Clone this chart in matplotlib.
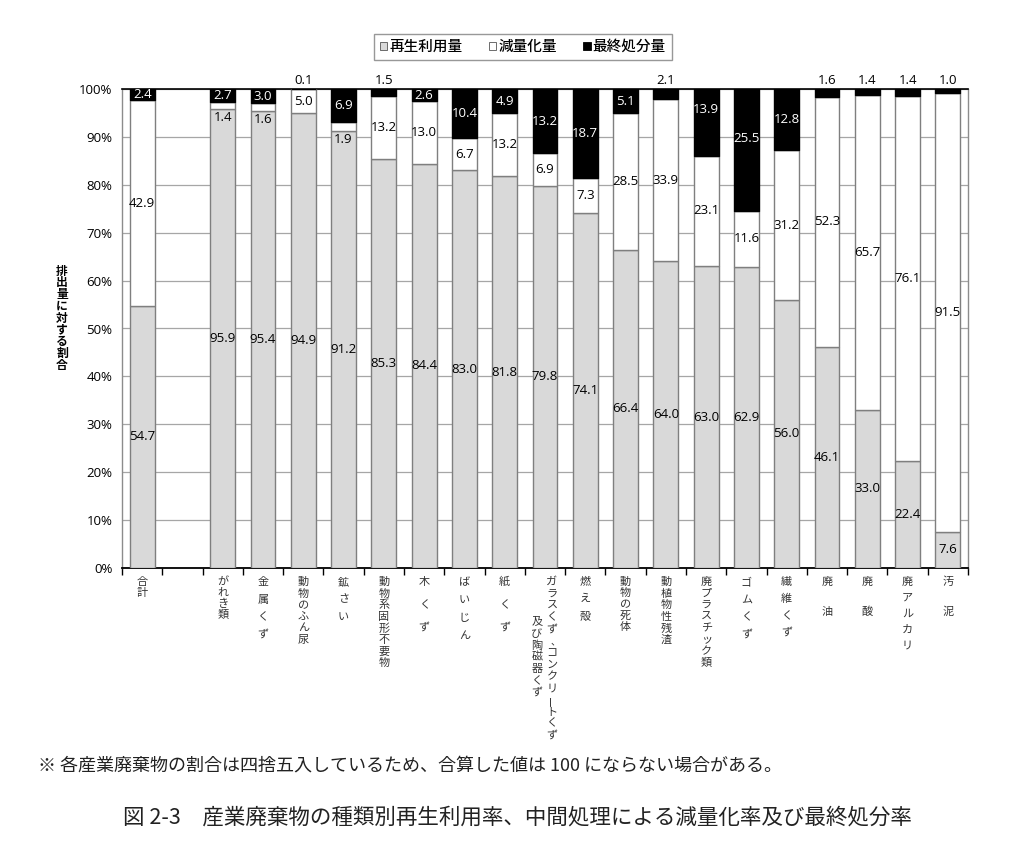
import matplotlib
matplotlib.use("Agg")
import matplotlib.pyplot as plt
from matplotlib.patches import Patch
import numpy as np

plt.rcParams['font.family'] = ['Noto Sans CJK JP', 'DejaVu Sans']

# ---- data ----
categories = ["合計", "", "がれき類", "金属くず", "動物のふん尿", "鉱さい", "動物系固形不要物",
              "木くず", "ばいじん", "紙くず", "ガラスくず、コンクリートくず|及び陶磁器くず",
              "燃え殻", "動物の死体", "動植物性残渣", "廃プラスチック類", "ゴムくず",
              "繊維くず", "廃油", "廃酸", "廃アルカリ", "汚泥"]
recycle = [54.7, np.nan, 95.9, 95.4, 94.9, 91.2, 85.3, 84.4, 83.0, 81.8, 79.8,
           74.1, 66.4, 64.0, 63.0, 62.9, 56.0, 46.1, 33.0, 22.4, 7.6]
reduction = [42.9, np.nan, 1.4, 1.6, 5.0, 1.9, 13.2, 13.0, 6.7, 13.2, 6.9,
             7.3, 28.5, 33.9, 23.1, 11.6, 31.2, 52.3, 65.7, 76.1, 91.5]
final = [2.4, np.nan, 2.7, 3.0, 0.1, 6.9, 1.5, 2.6, 10.4, 4.9, 13.2,
         18.7, 5.1, 2.1, 13.9, 25.5, 12.8, 1.6, 1.4, 1.4, 1.0]
series_names = ["再生利用量", "減量化量", "最終処分量"]
yticks = [0, 10, 20, 30, 40, 50, 60, 70, 80, 90, 100]

# ---- styling (not data) ----
label_step = [10.5, 0, 11, 17.7, 11.6, 17.5, 11.6, 23, 18, 23, 11.8,
              17, 11.3, 11.6, 11.6, 17.7, 17, 30, 30, 16, 30]
final_shift = {14: 2.6, 15: 2.5}   # manual label nudges (in %)

W, H = 1024, 855
fig = plt.figure(figsize=(W / 100, H / 100), dpi=100)
ax = fig.add_axes([122 / W, 1 - 568 / H, (968 - 122) / W, (568 - 89) / H])

x = np.arange(len(categories))
rec = np.array(recycle, dtype=float)
red = np.array(reduction, dtype=float)
fin = np.array(final, dtype=float)
bw = 0.62
ec = '#7f7f7f'
ax.bar(x, rec, bw, color='#d9d9d9', edgecolor=ec, linewidth=1.0, zorder=3)
ax.bar(x, red, bw, bottom=rec, color='white', edgecolor=ec, linewidth=1.0, zorder=3)
ax.bar(x, fin, bw, bottom=rec + red, color='black', edgecolor='black', linewidth=1.0, zorder=3)

ax.set_xlim(-0.5, len(categories) - 0.5)
ax.set_ylim(0, 100)
ax.set_yticks(yticks)
ax.set_yticklabels([f"{v}%" for v in yticks], fontsize=9.5, family=['Open Sans', 'DejaVu Sans'])
ax.tick_params(axis='y', length=0, pad=7)
ax.yaxis.grid(True, color='#a6a6a6', linewidth=0.9, zorder=0)
ax.set_axisbelow(True)
ax.set_xticks(np.arange(-0.5, len(categories), 1.0))
ax.set_xticklabels([])
ax.tick_params(axis='x', direction='out', length=5, width=1.0, color='black')
for s in ['left', 'right']:
    ax.spines[s].set_color('#8c8c8c')
    ax.spines[s].set_linewidth(1.0)
ax.spines['top'].set_color('black')
ax.spines['top'].set_linewidth(1.2)
ax.spines['bottom'].set_color('black')
ax.spines['bottom'].set_linewidth(1.3)

numfont = ['Open Sans', 'DejaVu Sans']
fs = 9.5
for i in range(len(categories)):
    if np.isnan(rec[i]):
        continue
    # recycle
    ax.text(x[i], rec[i] / 2, f"{rec[i]:.1f}", ha='center', va='center', fontsize=fs,
            family=numfont, zorder=5)
    # reduction
    if red[i] < 2.5:
        ax.text(x[i], rec[i] - 0.4, f"{red[i]:.1f}", ha='center', va='top', fontsize=fs,
                family=numfont, zorder=5)
    else:
        ax.text(x[i], rec[i] + red[i] / 2, f"{red[i]:.1f}", ha='center', va='center',
                fontsize=fs, family=numfont, zorder=5)
    # final
    if fin[i] < 2.3:
        ax.text(x[i], 100.4, f"{fin[i]:.1f}", ha='center', va='bottom', fontsize=fs,
                family=numfont, zorder=5, clip_on=False)
    else:
        yy = rec[i] + red[i] + fin[i] / 2 + final_shift.get(i, 0)
        ax.text(x[i], yy, f"{fin[i]:.1f}", ha='center', va='center', fontsize=fs,
                family=numfont, color='white', zorder=5)

# vertical category labels (stacked characters)
tcol = '#333333'
for i, lab in enumerate(categories):
    if not lab:
        continue
    cols = lab.split('|')
    step = label_step[i]
    if len(cols) == 1:
        offs = [(0, 0)]
    else:
        offs = [(7, 0), (-8, 40)]
    for (dx, dy0), col in zip(offs, cols):
        for k, ch in enumerate(col):
            rot = 90 if ch == 'ー' else 0
            ddx, ddy = dx, -(14 + dy0 + k * step)
            fsz = 8
            if ch == '、':
                ddx += 3
                fsz = 7
            ax.annotate(ch, xy=(x[i], 0), xycoords='data', xytext=(ddx, ddy),
                        textcoords='offset pixels', ha='center', va='center',
                        fontsize=fsz, color=tcol, rotation=rot, annotation_clip=False)

# y-axis label: vertical stacked bold characters
ylab = "排出量に対する割合"
for k, ch in enumerate(ylab):
    fig.text(62 / W, 1 - (271 + k * 11.8) / H, ch, ha='center', va='center',
             fontsize=8.5, fontweight='bold')

# legend
handles = [Patch(facecolor='#d9d9d9', edgecolor='#555555', linewidth=0.6),
           Patch(facecolor='white', edgecolor='#555555', linewidth=0.6),
           Patch(facecolor='black', edgecolor='black', linewidth=0.6)]
leg = fig.legend(handles, series_names, loc='center', bbox_to_anchor=(523 / W, 1 - 47 / H),
                 ncol=3, fontsize=10.5, frameon=True, fancybox=False, edgecolor='#7f7f7f',
                 handlelength=0.5, handleheight=0.5, handletextpad=0.15,
                 columnspacing=1.8, borderpad=0.4, borderaxespad=0)
leg.get_frame().set_linewidth(1.0)
leg.get_frame().set_width  # no-op
for t in leg.get_texts():
    t.set_fontweight('medium')

# notes / caption
fig.text(38 / W, 1 - 766 / H,
         "※ 各産業廃棄物の割合は四捨五入しているため、合算した値は 100 にならない場合がある。",
         ha='left', va='center', fontsize=13, color='#222222')
fig.text(517 / W, 1 - 818 / H,
         "図 2-3　産業廃棄物の種類別再生利用率、中間処理による減量化率及び最終処分率",
         ha='center', va='center', fontsize=15.5, color='#222222')

fig.savefig("out.png", dpi=100, facecolor='white')
